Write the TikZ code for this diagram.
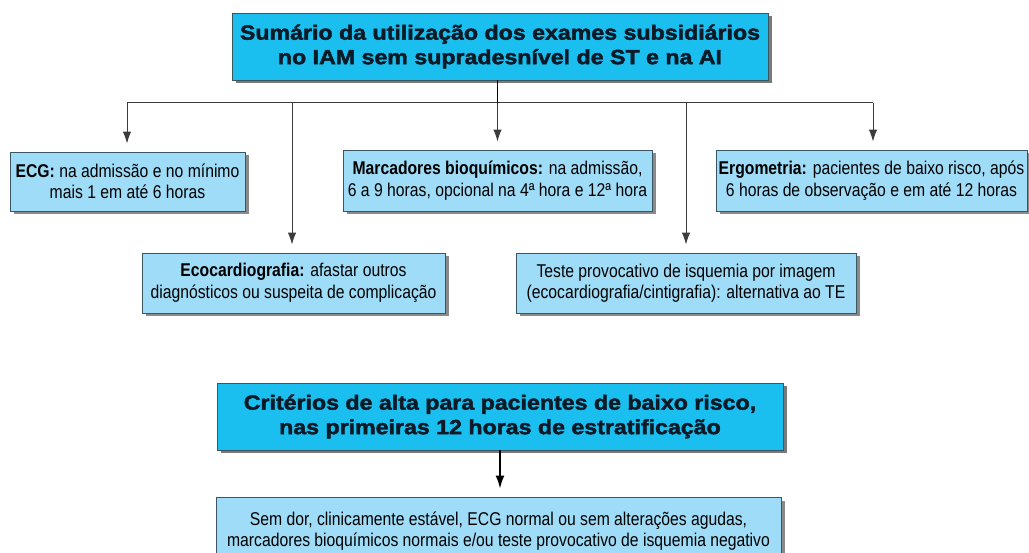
\documentclass[tikz,border=0pt]{standalone}
\usepackage{fontspec}
\setmainfont{Liberation Sans}
\newfontfamily\condfont{Liberation Sans}[FakeStretch=0.85]
\newfontfamily\titlefont{Liberation Sans}[FakeStretch=1.13,BoldFeatures={FakeBold=2.2}]
\usetikzlibrary{arrows.meta,shadows}
\definecolor{titlecyan}{HTML}{1BBFEF}
\definecolor{boxblue}{HTML}{9EDCF7}
\definecolor{edgecol}{HTML}{3A5662}
\definecolor{linecol}{HTML}{3C3C3C}
\definecolor{titletext}{HTML}{0B1A26}
\tikzset{
  titlebox/.style={draw=edgecol, line width=0.9pt, fill=titlecyan, align=center,
    font=\titlefont\bfseries\fontsize{20.5}{24.5}\selectfont, text=titletext,
    inner sep=0pt, drop shadow={shadow xshift=3.5pt, shadow yshift=-3.5pt, fill=black!70, opacity=0.75}},
  infobox/.style={draw=edgecol, line width=0.9pt, fill=boxblue, align=center,
    font=\condfont\fontsize{18.5}{21.5}\selectfont, text=black,
    inner sep=0pt, drop shadow={shadow xshift=3.5pt, shadow yshift=-3.5pt, fill=black!65, opacity=0.7}},
  conn/.style={draw=linecol, line width=1pt},
  arr/.style={conn, -{Latex[length=12pt,width=8.5pt]}, shorten >=8pt},
}
\begin{document}
\begin{tikzpicture}[x=1pt,y=-1pt]
\useasboundingbox (0,0) rectangle (1029,553);
\begin{scope}
\clip (0,0) rectangle (1029,553);
\node[titlebox, minimum width=536pt, minimum height=67pt] (t1) at (500,46.5)
  {Sumário da utilização dos exames subsidiários\\no IAM sem supradesnível de ST e na AI};
\node[infobox, minimum width=235pt, minimum height=59pt] (ecg) at (127.5,181.5)
  {\textbf{ECG:} na admissão e no mínimo\\mais 1 em até 6 horas};
\node[infobox, minimum width=309pt, minimum height=61pt] (marc) at (497.5,180.5)
  {\textbf{Marcadores bioquímicos:} na admissão,\\6 a 9 horas, opcional na 4ª hora e 12ª hora};
\node[infobox, minimum width=311pt, minimum height=61pt] (ergo) at (871.5,180.5)
  {\textbf{Ergometria:} pacientes de baixo risco, após\\6 horas de observação e em até 12 horas};
\node[infobox, minimum width=303pt, minimum height=60pt] (eco) at (293.5,283)
  {\textbf{Ecocardiografia:} afastar outros\\diagnósticos ou suspeita de complicação};
\node[infobox, minimum width=340pt, minimum height=60pt] (teste) at (686,283)
  {Teste provocativo de isquemia por imagem\\(ecocardiografia/cintigrafia): alternativa ao TE};
\node[titlebox, minimum width=566pt, minimum height=67pt] (t2) at (500,416.5)
  {Critérios de alta para pacientes de baixo risco,\\nas primeiras 12 horas de estratificação};
\node[infobox, minimum width=565pt, minimum height=68pt] (crit) at (498.5,531)
  {Sem dor, clinicamente estável, ECG normal ou sem alterações agudas,\\marcadores bioquímicos normais e/ou teste provocativo de isquemia negativo};
\end{scope}
\coordinate (hl) at (127,103);
\coordinate (hr) at (873,103);
\coordinate (hc) at (497.5,103);
\coordinate (he) at (292,103);
\coordinate (ht) at (686,103);
\draw[conn] (hl) -- (hr);
\draw[draw=black, line width=1.8pt] (t1.south -| hc) -- (hc);
\draw[arr] (hc) -- (marc.north);
\draw[arr] (hl) -- (ecg.north -| hl);
\draw[arr] (hr) -- (ergo.north -| hr);
\draw[arr] (he) -- (eco.north -| he);
\draw[arr] (ht) -- (teste.north -| ht);
\draw[arr, draw=black, line width=1.6pt, -{Latex[length=13pt,width=9pt]}] (t2.south) -- (t2.south |- crit.north);
\end{tikzpicture}
\end{document}
